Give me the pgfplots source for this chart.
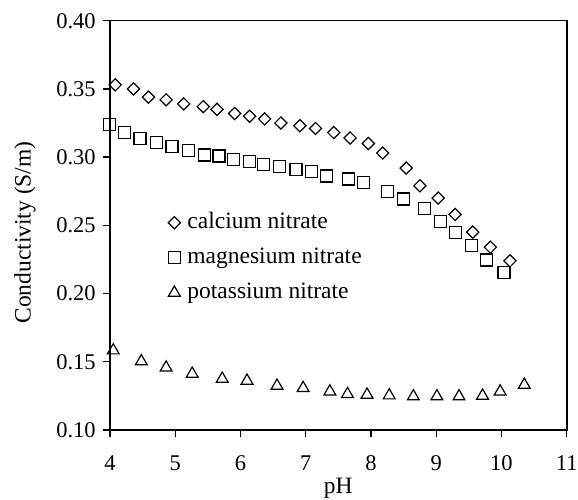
\documentclass[border=0pt]{standalone}
\usepackage{fontspec}
\setmainfont{Liberation Serif}
\usepackage{pgfplots}
\pgfplotsset{compat=1.18}
\begin{document}
\begin{tikzpicture}
\begin{axis}[
  name=ax, clip=false,
  scale only axis, width=456.7pt, height=409.3pt,
  xmin=4, xmax=11, ymin=0.10, ymax=0.40,
  xtick={4,5,6,7,8,9,10,11},
  ytick={0.10,0.15,0.20,0.25,0.30,0.35,0.40},
  xtick pos=bottom, ytick pos=left,
  tick align=outside, major tick length=7pt,
  axis line style={line width=1.6pt},
  every tick/.style={black, line width=1.3pt},
  font=\fontsize{22.5}{27}\selectfont,
  /pgf/number format/assume math mode=true,
  yticklabel style={/pgf/number format/fixed, /pgf/number format/fixed zerofill, /pgf/number format/precision=2, anchor=center, xshift=-27pt},
  xticklabel style={anchor=center, yshift=-26pt},
  xlabel={pH},
  ylabel={Conductivity (S/m)},
  xlabel style={at={(axis description cs:0.5,-0.1417)}, anchor=center, font=\fontsize{23.5}{28}\selectfont},
  ylabel style={at={(axis description cs:-0.186,0.4825)}, anchor=center, font=\fontsize{23.5}{28}\selectfont},
  legend style={draw=none, fill=none, at={(axis cs:4.89,0.2612)}, anchor=north west,
    row sep=10pt, column sep=5pt, inner sep=0pt,
    nodes={font=\fontsize{23.5}{28}\selectfont, text height=16pt, text depth=5pt, inner sep=2pt}},
  legend cell align=left,
  legend image code/.code={\draw[#1] plot coordinates {(0pt,0pt)};},
]
\addplot[black, only marks, mark=square, mark size=4.3pt, mark options={rotate=45, line width=1.2pt}] coordinates {
(4.08,0.353) (4.36,0.350) (4.59,0.344) (4.86,0.342) (5.13,0.339) (5.43,0.337)
(5.64,0.335) (5.91,0.332) (6.14,0.330) (6.37,0.328) (6.62,0.325) (6.91,0.323)
(7.15,0.321) (7.43,0.318) (7.68,0.314) (7.96,0.310) (8.18,0.303) (8.54,0.292)
(8.75,0.279) (9.03,0.270) (9.29,0.258) (9.56,0.245) (9.83,0.234) (10.13,0.224)
};
\addlegendentry{calcium nitrate}
\addplot[black, only marks, mark=square, mark size=6pt, mark options={line width=1.2pt}] coordinates {
(3.99,0.324) (4.22,0.318) (4.46,0.3135) (4.71,0.311) (4.95,0.3076) (5.20,0.305)
(5.45,0.3015) (5.67,0.3008) (5.89,0.298) (6.14,0.297) (6.35,0.2948) (6.60,0.293)
(6.85,0.291) (7.09,0.2893) (7.32,0.2861) (7.65,0.2839) (7.89,0.2814) (8.25,0.2751)
(8.50,0.2693) (8.82,0.2623) (9.07,0.2526) (9.29,0.2447) (9.54,0.2353) (9.77,0.2246)
(10.04,0.2156)
};
\addlegendentry{magnesium nitrate}
\addplot[black, only marks, mark=triangle, mark size=6.8pt, mark options={line width=1.2pt}] coordinates {
(4.05,0.1583) (4.48,0.1503) (4.86,0.1457) (5.26,0.1412) (5.72,0.1375) (6.10,0.1361)
(6.56,0.1324) (6.96,0.1307) (7.37,0.1282) (7.64,0.1263) (7.94,0.1258) (8.28,0.1253)
(8.65,0.1246) (9.01,0.1246) (9.35,0.1246) (9.71,0.1251) (9.98,0.1282) (10.35,0.1331)
};
\addlegendentry{potassium nitrate}
\end{axis}
\pgfresetboundingbox
\path ([shift={(-110pt,-69pt)}]ax.south west) rectangle ([shift={(11.3pt,20.7pt)}]ax.north east);
\end{tikzpicture}
\end{document}
